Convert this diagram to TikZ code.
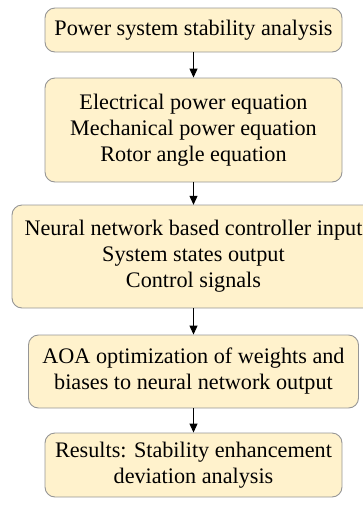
\documentclass[tikz,border=0pt]{standalone}
\usepackage{fontspec}
\setmainfont{Liberation Serif}
\usetikzlibrary{arrows.meta}
\definecolor{boxfill}{RGB}{255,242,204}
\definecolor{boxline}{RGB}{150,150,150}
\begin{document}
\begin{tikzpicture}[x=1pt,y=-1pt,
  boxshape/.style={draw=boxline, line width=0.9pt, fill=boxfill, rounded corners=10pt},
  flowbox/.style={boxshape, align=center, inner sep=0pt, font=\fontsize{22.2}{26}\selectfont},
  flowtext/.style={align=center, inner sep=0pt, font=\fontsize{22.2}{26}\selectfont},
  flowarrow/.style={-{Triangle[length=9pt,width=8pt]}, line width=1pt, black}]
\useasboundingbox (0,0) rectangle (363,507);
\node[flowbox, minimum width=297pt, minimum height=44pt] (b1) at (193.5,30) {Power system stability analysis};
\node[flowbox, minimum width=297pt, minimum height=104pt] (b2) at (193.5,130) {Electrical power equation\\Mechanical power equation\\Rotor angle equation};
\path[boxshape] (12,205) rectangle (400,308);
\node[flowtext, minimum width=363pt, minimum height=103pt] (b3) at (193.5,256.5) {Neural network based controller input\\System states output\\Control signals};
\node[flowbox, minimum width=330pt, minimum height=73pt] (b4) at (193.5,371.5) {AOA optimization of weights and\\biases to neural network output};
\node[flowbox, minimum width=297pt, minimum height=64pt] (b5) at (193.5,465) {Results: Stability enhancement\\deviation analysis};
\draw[flowarrow] (b1) -- (b2);
\draw[flowarrow] (b2) -- (b3);
\draw[flowarrow] (b3) -- (b4);
\draw[flowarrow] (b4) -- (b5);
\end{tikzpicture}
\end{document}
